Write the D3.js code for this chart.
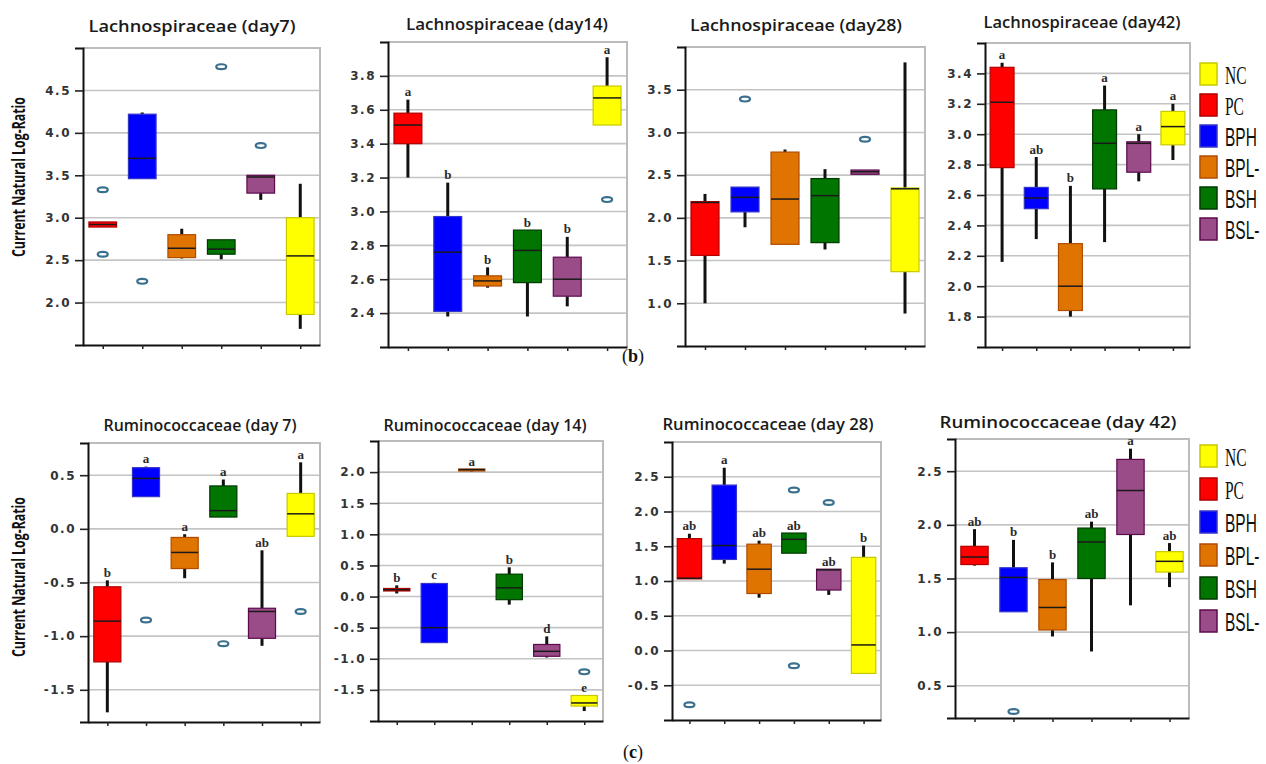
<!DOCTYPE html>
<html>
<head>
<meta charset="utf-8">
<script src="https://cdn.jsdelivr.net/npm/d3@7"></script>
<style>
body{margin:0;background:#fff}
svg{display:block}
</style>
</head>
<body>
<svg id="chart" width="1266" height="764"></svg>
<script>
// groups in x order, legend in its own order
const groups = ['PC', 'BPH', 'BPL-', 'BSH', 'BSL-', 'NC']
const legendNames = ['NC', 'PC', 'BPH', 'BPL-', 'BSH', 'BSL-']
const groupFill = {'PC':'#ff0000','BPH':'#0000ff','BPL-':'#e07400','BSH':'#007500','BSL-':'#994c88','NC':'#ffff00'}
const groupStroke = {'PC':'#b00000','BPH':'#3434c8','BPL-':'#b04c00','BSH':'#003a00','BSL-':'#5c0a4c','NC':'#c8c800'}

// [lowWhisker, q1, median, q3, highWhisker] per group
const lachD7Stats = [[2.89,2.89,2.92,2.95,2.95],[3.46,3.46,3.70,4.22,4.24],[2.52,2.53,2.64,2.80,2.87],[2.51,2.57,2.63,2.74,2.74],[3.21,3.29,3.48,3.50,3.50],[1.69,1.86,2.55,3.00,3.40]]
const lachD7Out = [[3.33,2.57],[2.25],[],[4.78],[3.85],[]]
const lachD7Letters = ['','','','','','']
const lachD7Ticks = [2.0,2.5,3.0,3.5,4.0,4.5]
const lachD7Domain = [1.5,5.0]

const lachD14Stats = [[3.20,3.40,3.51,3.58,3.66],[2.38,2.41,2.76,2.97,3.17],[2.55,2.56,2.59,2.62,2.67],[2.38,2.58,2.77,2.89,2.89],[2.44,2.50,2.60,2.73,2.85],[3.51,3.51,3.67,3.74,3.91]]
const lachD14Out = [[],[],[],[],[],[3.07]]
const lachD14Letters = ['a','b','b','b','b','a']
const lachD14Ticks = [2.4,2.6,2.8,3.0,3.2,3.4,3.6,3.8]
const lachD14Domain = [2.2,4.0]

const lachD28Stats = [[1.00,1.56,2.18,2.19,2.28],[1.89,2.07,2.24,2.36,2.36],[1.69,1.69,2.22,2.77,2.80],[1.63,1.71,2.26,2.46,2.57],[2.51,2.51,2.54,2.56,2.56],[0.88,1.37,2.34,2.35,3.82]]
const lachD28Out = [[],[3.39],[],[],[2.92],[]]
const lachD28Letters = ['','','','','','']
const lachD28Ticks = [1.0,1.5,2.0,2.5,3.0,3.5]
const lachD28Domain = [0.5,4.0]

const lachD42Stats = [[2.16,2.78,3.21,3.44,3.47],[2.31,2.51,2.58,2.65,2.85],[1.80,1.84,2.00,2.28,2.66],[2.29,2.64,2.94,3.16,3.32],[2.69,2.75,2.94,2.95,3.00],[2.83,2.93,3.05,3.15,3.20]]
const lachD42Out = [[],[],[],[],[],[]]
const lachD42Letters = ['a','ab','b','a','a','a']
const lachD42Ticks = [1.8,2.0,2.2,2.4,2.6,2.8,3.0,3.2,3.4]
const lachD42Domain = [1.6,3.6]

const rumD7Stats = [[-1.71,-1.24,-0.86,-0.54,-0.48],[0.30,0.30,0.47,0.57,0.58],[-0.46,-0.37,-0.22,-0.08,-0.05],[0.11,0.11,0.17,0.40,0.46],[-1.09,-1.02,-0.77,-0.74,-0.20],[-0.07,-0.07,0.14,0.33,0.62]]
const rumD7Out = [[],[-0.85],[],[-1.07],[],[-0.77]]
const rumD7Letters = ['b','a','a','a','ab','a']
const rumD7Ticks = [-1.5,-1.0,-0.5,0.0,0.5]
const rumD7Domain = [-1.8,0.8]

const rumD14Stats = [[0.05,0.09,0.11,0.13,0.18],[-0.74,-0.74,-0.50,0.21,0.22],[2.01,2.03,2.04,2.05,2.05],[-0.13,-0.05,0.14,0.36,0.47],[-0.98,-0.96,-0.88,-0.77,-0.64],[-1.84,-1.76,-1.71,-1.59,-1.59]]
const rumD14Out = [[],[],[],[],[],[-1.21]]
const rumD14Letters = ['b','c','a','b','d','e']
const rumD14Ticks = [-1.5,-1.0,-0.5,0.0,0.5,1.0,1.5,2.0]
const rumD14Domain = [-2.0,2.5]

const rumD28Stats = [[1.03,1.03,1.04,1.61,1.68],[1.25,1.31,1.51,2.38,2.63],[0.76,0.82,1.17,1.53,1.58],[1.40,1.40,1.60,1.69,1.69],[0.80,0.87,1.16,1.17,1.17],[-0.33,-0.33,0.08,1.34,1.51]]
const rumD28Out = [[-0.78],[],[],[2.31,-0.22],[2.13],[]]
const rumD28Letters = ['ab','a','ab','ab','ab','b']
const rumD28Ticks = [-0.5,0.0,0.5,1.0,1.5,2.0,2.5]
const rumD28Domain = [-1.0,3.0]

const rumD42Stats = [[1.62,1.63,1.70,1.80,1.96],[1.19,1.19,1.51,1.60,1.86],[0.96,1.02,1.23,1.49,1.65],[0.82,1.50,1.84,1.97,2.03],[1.25,1.91,2.32,2.61,2.71],[1.42,1.56,1.66,1.75,1.83]]
const rumD42Out = [[],[0.26],[],[],[],[]]
const rumD42Letters = ['ab','b','b','ab','a','ab']
const rumD42Ticks = [0.5,1.0,1.5,2.0,2.5]
const rumD42Domain = [0.2,2.8]

const panels = [
  {title:'Lachnospiraceae (day7)', stats:lachD7Stats, out:lachD7Out, letters:lachD7Letters, ticks:lachD7Ticks, domain:lachD7Domain, left:83, right:320, top:48, bottom:345, tx:192, ty:32, tl:207},
  {title:'Lachnospiraceae (day14)', stats:lachD14Stats, out:lachD14Out, letters:lachD14Letters, ticks:lachD14Ticks, domain:lachD14Domain, left:388, right:627, top:42, bottom:347, tx:507, ty:30, tl:202},
  {title:'Lachnospiraceae (day28)', stats:lachD28Stats, out:lachD28Out, letters:lachD28Letters, ticks:lachD28Ticks, domain:lachD28Domain, left:685, right:925, top:47, bottom:346, tx:796, ty:31, tl:212},
  {title:'Lachnospiraceae (day42)', stats:lachD42Stats, out:lachD42Out, letters:lachD42Letters, ticks:lachD42Ticks, domain:lachD42Domain, left:985, right:1190, top:43, bottom:347, tx:1082, ty:28, tl:197},
  {title:'Ruminococcaceae (day 7)', stats:rumD7Stats, out:rumD7Out, letters:rumD7Letters, ticks:rumD7Ticks, domain:rumD7Domain, left:88, right:320, top:443, bottom:722, tx:200, ty:431, tl:193},
  {title:'Ruminococcaceae (day 14)', stats:rumD14Stats, out:rumD14Out, letters:rumD14Letters, ticks:rumD14Ticks, domain:rumD14Domain, left:378, right:603, top:441, bottom:721, tx:485, ty:431, tl:203},
  {title:'Ruminococcaceae (day 28)', stats:rumD28Stats, out:rumD28Out, letters:rumD28Letters, ticks:rumD28Ticks, domain:rumD28Domain, left:672, right:881, top:442, bottom:720, tx:768, ty:430, tl:211},
  {title:'Ruminococcaceae (day 42)', stats:rumD42Stats, out:rumD42Out, letters:rumD42Letters, ticks:rumD42Ticks, domain:rumD42Domain, left:955, right:1189, top:439, bottom:718, tx:1058, ty:428, tl:237}
]

const svg = d3.select('#chart')
svg.append('rect').attr('width', 1266).attr('height', 764).attr('fill', '#fff')

function drawPanel(p){
  let g = svg.append('g')
  let y = d3.scaleLinear().domain(p.domain).range([p.bottom, p.top])
  let x = d3.scalePoint().domain(groups).range([p.left, p.right]).padding(0.5)
  let bw = x.step() * 0.7

  // grid + grey frame
  g.selectAll('line.grid').data(p.ticks).join('line')
    .attr('class', 'grid')
    .attr('x1', p.left).attr('x2', p.right)
    .attr('y1', d => y(d)).attr('y2', d => y(d))
    .attr('stroke', '#c4c4c4').attr('stroke-width', 1.6)
  g.append('path')
    .attr('d', `M${p.left},${p.top}H${p.right}V${p.bottom}`)
    .attr('fill', 'none').attr('stroke', '#bcbcbc').attr('stroke-width', 2)

  let rows = groups.map((k, i) => ({k, s: p.stats[i], out: p.out[i], letter: p.letters[i]}))
  let bx = g.selectAll('g.bx').data(rows).join('g').attr('class', 'bx')

  // whiskers
  bx.append('line')
    .attr('x1', d => x(d.k)).attr('x2', d => x(d.k))
    .attr('y1', d => y(d.s[0])).attr('y2', d => y(d.s[1]))
    .attr('stroke', '#111').attr('stroke-width', 3)
  bx.append('line')
    .attr('x1', d => x(d.k)).attr('x2', d => x(d.k))
    .attr('y1', d => y(d.s[3])).attr('y2', d => y(d.s[4]))
    .attr('stroke', '#111').attr('stroke-width', 3)
  // boxes
  bx.append('rect')
    .attr('x', d => x(d.k) - bw / 2).attr('width', bw)
    .attr('y', d => y(d.s[3]))
    .attr('height', d => Math.max(2, y(d.s[1]) - y(d.s[3])))
    .attr('fill', d => groupFill[d.k])
    .attr('stroke', d => groupStroke[d.k]).attr('stroke-width', 1.2)
  bx.append('line')
    .attr('x1', d => x(d.k) - bw / 2).attr('x2', d => x(d.k) + bw / 2)
    .attr('y1', d => y(d.s[2])).attr('y2', d => y(d.s[2]))
    .attr('stroke', '#1a1a1a').attr('stroke-width', 1.5)
  // outliers
  bx.each(function(d){
    d3.select(this).selectAll('ellipse').data(d.out).join('ellipse')
      .attr('cx', x(d.k)).attr('cy', v => y(v))
      .attr('rx', 5).attr('ry', 2.4)
      .attr('fill', '#fff').attr('stroke', '#3a6f8e').attr('stroke-width', 2.2)
  })
  // significance letters
  bx.append('text')
    .attr('x', d => x(d.k))
    .attr('y', d => y(Math.max(d.s[4], d.s[3])) - 3.5)
    .attr('text-anchor', 'middle')
    .attr('font-family', '"Liberation Serif", "DejaVu Serif", serif')
    .attr('font-weight', 'bold').attr('font-size', 13).attr('fill', '#2a2a2a')
    .text(d => d.letter)

  // axes
  let ay = g.append('g').attr('transform', `translate(${p.left},0)`)
    .call(d3.axisLeft(y).tickValues(p.ticks).tickSize(8).tickSizeOuter(8).tickPadding(4).tickFormat(d => d.toFixed(1)))
  ay.select('.domain').attr('stroke', '#111').attr('stroke-width', 2)
  ay.selectAll('.tick line').attr('stroke', '#222').attr('stroke-width', 1.6)
  ay.selectAll('.tick text')
    .attr('font-family', '"DejaVu Sans", Verdana, sans-serif')
    .attr('font-weight', 'bold').attr('font-size', 12).attr('fill', '#333')
    .attr('letter-spacing', 1.5)
  let ax = g.append('g').attr('transform', `translate(0,${p.bottom})`)
    .call(d3.axisBottom(x).tickSize(4).tickSizeOuter(0).tickFormat(''))
  ax.select('.domain').attr('stroke', '#111').attr('stroke-width', 2)
  ax.selectAll('.tick line').attr('stroke', '#222').attr('stroke-width', 1.5)

  // title
  g.append('text')
    .attr('x', p.tx).attr('y', p.ty)
    .attr('text-anchor', 'middle')
    .attr('font-family', '"Open Sans", "Noto Sans", sans-serif')
    .attr('font-weight', 600).attr('font-size', 17).attr('fill', '#1a1a1a')
    .attr('textLength', p.tl).attr('lengthAdjust', 'spacingAndGlyphs')
    .text(p.title)
}

panels.forEach(drawPanel)

// y labels
;[177, 577].forEach(cy => {
  svg.append('text')
    .attr('transform', `translate(25,${cy})rotate(-90)`)
    .attr('text-anchor', 'middle')
    .attr('font-family', '"Open Sans", "Noto Sans", sans-serif')
    .attr('font-weight', 'bold').attr('font-size', 17).attr('fill', '#111')
    .attr('textLength', 160).attr('lengthAdjust', 'spacingAndGlyphs')
    .text('Current Natural Log-Ratio')
})

// legends
function drawLegend(y0, gap){
  let lg = svg.append('g')
  let items = lg.selectAll('g').data(legendNames).join('g')
    .attr('transform', (d, i) => `translate(1200,${y0 + i * gap})`)
  items.append('rect')
    .attr('width', 17).attr('height', 22)
    .attr('fill', d => groupFill[d]).attr('stroke', d => groupStroke[d]).attr('stroke-width', 1.5)
  items.append('text')
    .attr('transform', 'translate(25,21)scale(0.62,1)')
    .attr('font-family', (d, i) => i < 2 ? '"Liberation Serif", serif' : '"Liberation Sans", Arial, sans-serif')
    .attr('font-size', 25).attr('fill', '#111')
    .text(d => d)
}
drawLegend(63, 31)
drawLegend(445, 33)

// sub-figure labels
;[['b', 362], ['c', 758]].forEach(([t, yy]) => {
  let tx = svg.append('text')
    .attr('x', 633).attr('y', yy).attr('text-anchor', 'middle')
    .attr('font-family', '"Liberation Serif", "DejaVu Serif", serif')
    .attr('font-size', 18).attr('fill', '#111')
  tx.append('tspan').text('(')
  tx.append('tspan').attr('font-weight', 'bold').text(t)
  tx.append('tspan').text(')')
})
</script>
</body>
</html>
